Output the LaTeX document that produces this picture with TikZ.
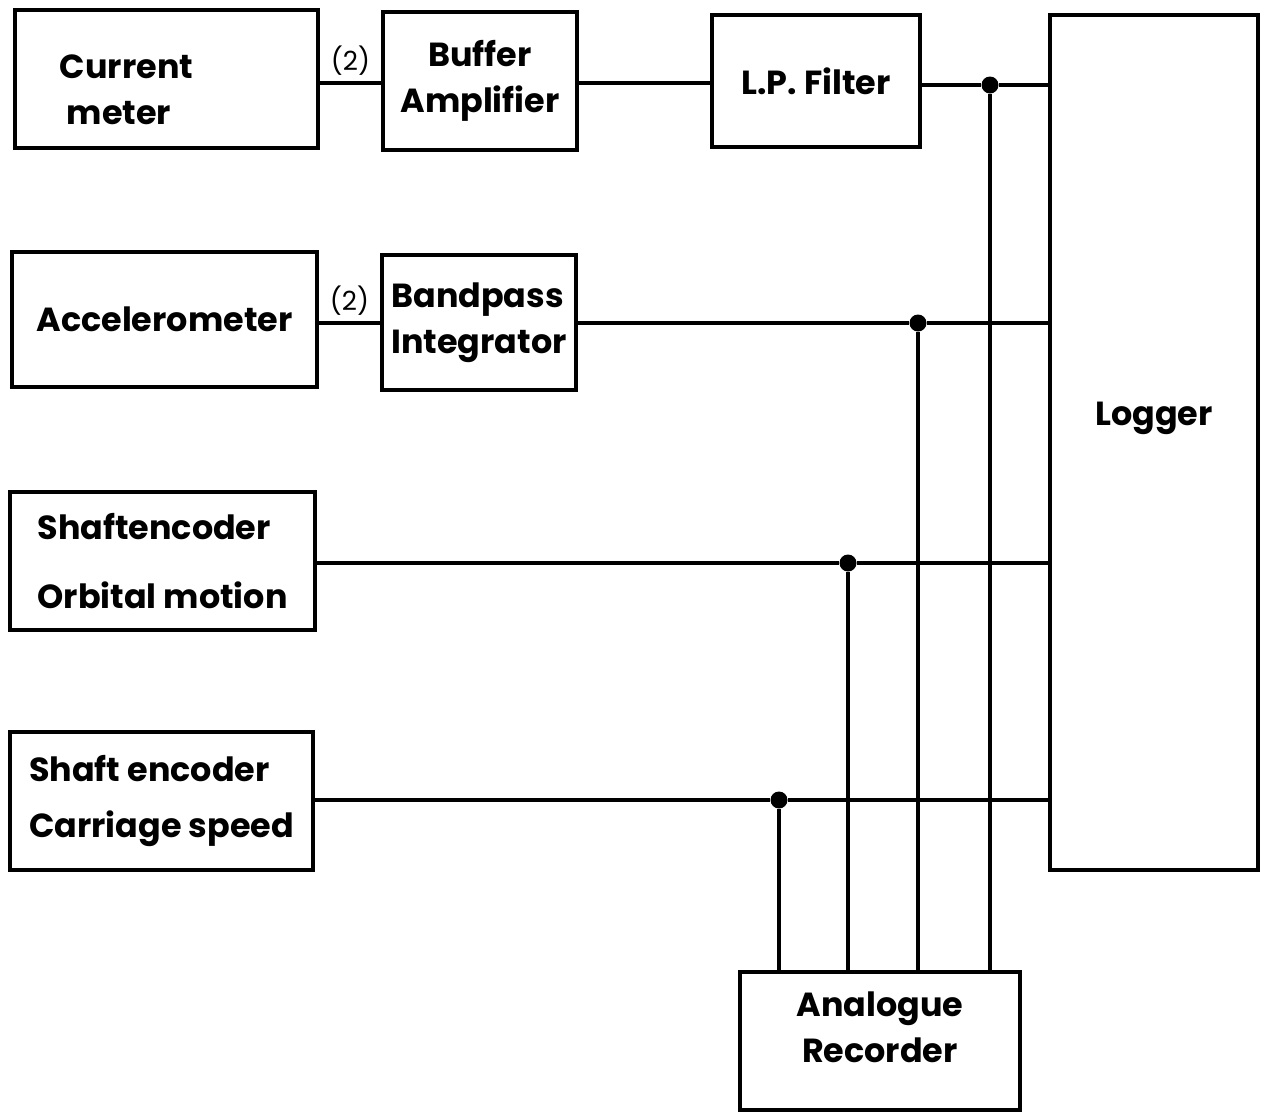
\documentclass[tikz,border=0pt]{standalone}
\usepackage{fontspec}
\setmainfont{Poppins}
\begin{document}
\begin{tikzpicture}[
  blk/.style={rectangle,draw,line width=2.2pt,align=center,inner sep=0pt,font=\fontsize{19}{26}\selectfont\bfseries},
  wire/.style={line width=2.2pt},
  tap/.style={circle,fill,inner sep=0pt,minimum size=0.34cm},
  cnt/.style={font=\fontsize{15}{17}\selectfont,inner sep=3pt}
]
  \useasboundingbox (0,0) rectangle (25.3,-22.24);

  \node[blk,minimum width=6.06cm,minimum height=2.76cm] (cur) at (3.33,-1.58)  {\rule{0pt}{0.9cm}Current\hspace*{1.6cm}\\meter\hspace*{1.9cm}};
  \node[blk,minimum width=3.88cm,minimum height=2.76cm] (buf) at (9.60,-1.62)  {Buffer\\Amplifier};
  \node[blk,minimum width=4.16cm,minimum height=2.64cm] (lpf) at (16.32,-1.62) {L.P. Filter};
  \node[blk,minimum width=4.16cm,minimum height=17.1cm,text depth=1.15cm] (log) at (23.08,-8.85) {Logger};
  \node[blk,minimum width=6.10cm,minimum height=2.70cm] (acc) at (3.29,-6.39)  {Accelerometer};
  \node[blk,minimum width=3.88cm,minimum height=2.70cm,align=left,font=\fontsize{19}{26}\selectfont\bfseries] (bpi) at (9.58,-6.45)  {Bandpass\\Integrator};
  \node[blk,minimum width=6.10cm,minimum height=2.76cm,align=left,font=\fontsize{19}{39}\selectfont\bfseries] (orb) at (3.25,-11.22) {Shaftencoder\\Orbital motion};
  \node[blk,minimum width=6.06cm,minimum height=2.76cm,align=left,font=\fontsize{19}{32}\selectfont\bfseries] (car) at (3.23,-16.02) {Shaft encoder\\Carriage speed};
  \node[blk,minimum width=5.60cm,minimum height=2.76cm,text depth=0.55cm] (rec) at (17.60,-20.82) {Analogue\\Recorder};

  % taps onto the recorder lines
  \node[tap] (t1) at (19.80,-1.70)  {};
  \node[tap] (t2) at (18.36,-6.46)  {};
  \node[tap] (t3) at (16.96,-11.26) {};
  \node[tap] (t4) at (15.58,-16.00) {};

  \draw[wire] (cur.east |- 0,-1.66) -- node[cnt,above]{(2)} (buf.west |- 0,-1.66);
  \draw[wire] (buf.east |- 0,-1.66) -- (lpf.west |- 0,-1.66);
  \draw[wire] (lpf.east |- t1) -- (t1) -- (log.west |- t1);
  \draw[wire] (acc.east |- 0,-6.46) -- node[cnt,above]{(2)} (bpi.west |- 0,-6.46);
  \draw[wire] (bpi.east |- t2) -- (t2) -- (log.west |- t2);
  \draw[wire] (orb.east |- t3) -- (t3) -- (log.west |- t3);
  \draw[wire] (car.east |- t4) -- (t4) -- (log.west |- t4);

  \foreach \t in {t1,t2,t3,t4}
    \draw[wire] (\t) -- (\t |- rec.north);
\end{tikzpicture}
\end{document}
